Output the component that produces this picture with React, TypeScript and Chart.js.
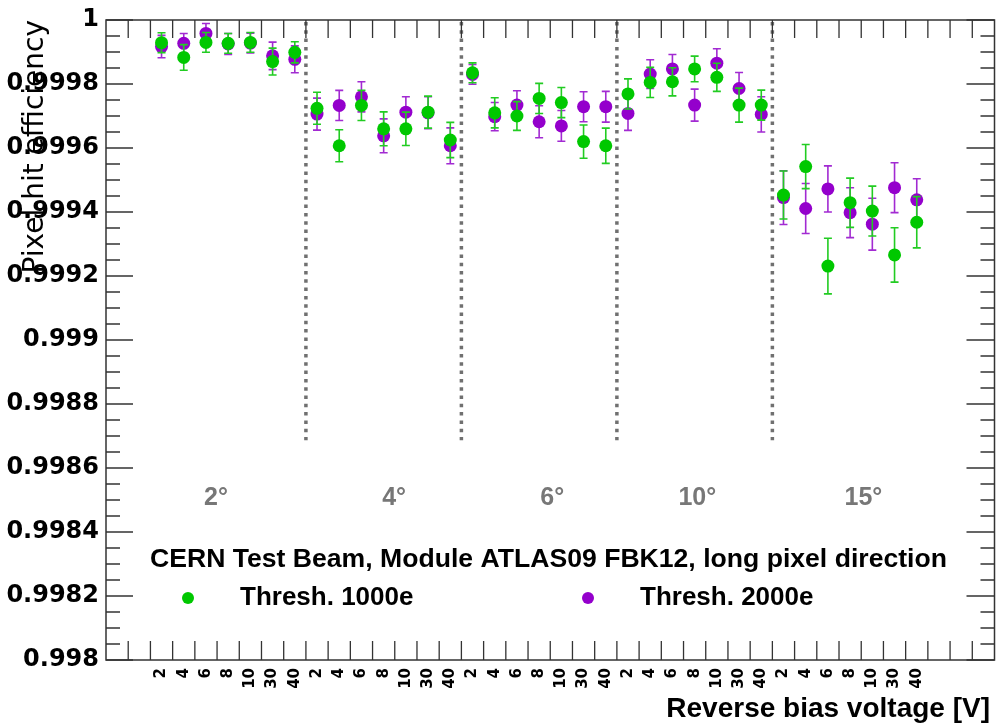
import { useEffect, useRef } from 'react';
import { Chart, registerables } from 'chart.js';

Chart.register(...registerables);

// ---------- data ----------
const voltages = ['2', '4', '6', '8', '10', '30', '40'];
const angles = ['2°', '4°', '6°', '10°', '15°'];
const leadingEmptyBins = 2;
const trailingEmptyBins = 3;

const thresh1000 = [
  0.999929, 0.999883, 0.99993, 0.999927, 0.99993, 0.99987, 0.999899,
  0.999724, 0.999607, 0.999733, 0.99966, 0.99966, 0.999712, 0.999625,
  0.999835, 0.99971, 0.9997, 0.999755, 0.999742, 0.99962, 0.999607,
  0.999769, 0.999805, 0.999807, 0.999847, 0.999821, 0.999734, 0.999734,
  0.999453, 0.999542, 0.999231, 0.999429, 0.999403, 0.999266, 0.999368,
];
const thresh1000Err = [
  0.000031, 0.00004, 0.000031, 0.000031, 0.000031, 0.000042, 0.000033,
  0.00005, 0.00005, 0.000047, 0.000053, 0.000052, 0.00005, 0.000055,
  0.000031, 0.000047, 0.000045, 0.000047, 0.000047, 0.000052, 0.000055,
  0.000047, 0.000047, 0.000044, 0.00004, 0.000044, 0.000053, 0.000047,
  0.000075, 0.000069, 0.000087, 0.000077, 0.000078, 0.000085, 0.00008,
];
const thresh2000 = [
  0.999917, 0.999927, 0.999958, 0.999925, 0.999928, 0.999888, 0.999877,
  0.999706, 0.999733, 0.99976, 0.999638, 0.999712, 0.99971, 0.999607,
  0.99983, 0.999698, 0.999734, 0.999682, 0.999669, 0.999729, 0.999729,
  0.999708, 0.999831, 0.999847, 0.999734, 0.999865, 0.999786, 0.999705,
  0.999445, 0.999411, 0.999472, 0.999398, 0.999362, 0.999476, 0.999438,
];
const thresh2000Err = [
  0.000035, 0.000031, 0.000031, 0.000033, 0.000031, 0.000043, 0.000042,
  0.00005, 0.000047, 0.000047, 0.000053, 0.000048, 0.00005, 0.000056,
  0.000031, 0.000044, 0.000045, 0.00005, 0.000048, 0.000047, 0.000048,
  0.000053, 0.000045, 0.000045, 0.00005, 0.000045, 0.00005, 0.000055,
  0.000084, 0.000078, 0.000072, 0.000078, 0.000081, 0.000078, 0.000066,
];

const yMin = 0.998;
const yMax = 1;
const yStep = 0.0002;

const seriesNames = ['Thresh. 1000e', 'Thresh. 2000e'];
const headerText = 'CERN Test Beam, Module ATLAS09 FBK12, long pixel direction';
const xTitle = 'Reverse bias voltage [V]';
const yTitle = 'Pixel hit efficiency';

// ---------- derived ----------
const categories = [
  ...Array(leadingEmptyBins).fill(''),
  ...angles.flatMap(() => voltages),
  ...Array(trailingEmptyBins).fill(''),
];
const pad = (arr: (number | null)[]) => [
  ...Array(leadingEmptyBins).fill(null),
  ...arr,
  ...Array(trailingEmptyBins).fill(null),
];

const GREEN = '#00c800';
const GREEN_BAR = '#22cc22';
const PURPLE = '#9400cc';
const PURPLE_BAR = '#a22ad2';

const errorSets = [pad(thresh1000Err), pad(thresh2000Err)];
const barColors = [GREEN_BAR, PURPLE_BAR];

// positions of angle labels in category-index units
const angleLabelPos = [4.45, 12.47, 19.59, 26.12, 33.6];

const FRAME = '#333333';

const rootStylePlugin = {
  id: 'rootStyle',
  beforeDatasetsDraw(chart: any) {
    const { ctx, chartArea: a, scales } = chart;
    const x = scales.x;
    const y = scales.y;
    ctx.save();

    // dotted separators between angle groups
    ctx.strokeStyle = '#707070';
    ctx.lineWidth = 3.5;
    ctx.setLineDash([3.5, 4.8]);
    const yEnd = y.getPixelForValue(0.998687);
    for (let g = 1; g < angles.length; g++) {
      const px = x.getPixelForValue(leadingEmptyBins + g * voltages.length - 0.5);
      ctx.beginPath();
      ctx.moveTo(px, a.top + 2);
      ctx.lineTo(px, yEnd);
      ctx.stroke();
    }
    ctx.setLineDash([]);

    // frame
    ctx.strokeStyle = FRAME;
    ctx.lineWidth = 1.5;
    ctx.strokeRect(a.left, a.top, a.right - a.left, a.bottom - a.top);

    // y ticks (major + minor), both sides, inward
    ctx.lineWidth = 1.3;
    const yt = y.ticks.map((t: any) => t.value);
    ctx.beginPath();
    for (let i = 0; i < yt.length; i++) {
      const py = y.getPixelForValue(yt[i]);
      ctx.moveTo(a.left, py); ctx.lineTo(a.left + 27, py);
      ctx.moveTo(a.right, py); ctx.lineTo(a.right - 28, py);
      if (i < yt.length - 1) {
        for (let k = 1; k < 4; k++) {
          const pm = y.getPixelForValue(yt[i] + (k * (yt[i + 1] - yt[i])) / 4);
          ctx.moveTo(a.left, pm); ctx.lineTo(a.left + 14, pm);
          ctx.moveTo(a.right, pm); ctx.lineTo(a.right - 14, pm);
        }
      }
    }
    // x ticks at bin boundaries, top and bottom, inward
    for (let i = 1; i < categories.length; i++) {
      const px = x.getPixelForValue(i - 0.5);
      ctx.moveTo(px, a.bottom); ctx.lineTo(px, a.bottom - 19);
      ctx.moveTo(px, a.top); ctx.lineTo(px, a.top + 18);
    }
    ctx.stroke();

    // angle labels
    ctx.fillStyle = '#777777';
    ctx.font = 'bold 25px "Liberation Sans", Arial, sans-serif';
    ctx.textAlign = 'center';
    ctx.textBaseline = 'alphabetic';
    angles.forEach((lab, i) => {
      ctx.fillText(lab, x.getPixelForValue(angleLabelPos[i]), 505);
    });

    // legend
    ctx.fillStyle = '#000';
    ctx.textAlign = 'left';
    ctx.font = 'bold 26.6px "Liberation Sans", Arial, sans-serif';
    ctx.fillText(headerText, 150, 567);
    ctx.font = 'bold 26px "Liberation Sans", Arial, sans-serif';
    const entries = [
      { name: seriesNames[0], color: GREEN, dot: 188, text: 240 },
      { name: seriesNames[1], color: PURPLE, dot: 588, text: 640 },
    ];
    entries.forEach((e) => {
      ctx.fillStyle = e.color;
      ctx.beginPath();
      ctx.arc(e.dot, 598, 6, 0, Math.PI * 2);
      ctx.fill();
      ctx.fillStyle = '#000';
      ctx.fillText(e.name, e.text, 605);
    });

    // axis titles
    ctx.font = 'bold 28px "Liberation Sans", Arial, sans-serif';
    ctx.textAlign = 'right';
    ctx.fillText(xTitle, 990, 717);

    ctx.save();
    ctx.translate(43, 20);
    ctx.rotate(-Math.PI / 2);
    ctx.font = '28px "DejaVu Sans", sans-serif';
    ctx.textAlign = 'right';
    ctx.textBaseline = 'alphabetic';
    ctx.fillText(yTitle, 0, 0);
    ctx.restore();

    ctx.restore();
  },
  beforeDatasetDraw(chart: any, args: any) {
    const { ctx, scales } = chart;
    const y = scales.y;
    const idx = args.index;
    const ds = chart.data.datasets[idx];
    const errs = errorSets[idx];
    ctx.save();
    ctx.strokeStyle = barColors[idx];
    ctx.lineWidth = 1.6;
    ctx.beginPath();
    args.meta.data.forEach((pt: any, i: number) => {
      const v = ds.data[i];
      if (v == null) return;
      const e = errs[i] as number;
      const top = y.getPixelForValue(v + e);
      const bot = y.getPixelForValue(v - e);
      ctx.moveTo(pt.x, top); ctx.lineTo(pt.x, bot);
      ctx.moveTo(pt.x - 4, top); ctx.lineTo(pt.x + 4, top);
      ctx.moveTo(pt.x - 4, bot); ctx.lineTo(pt.x + 4, bot);
    });
    ctx.stroke();
    ctx.restore();
  },
};

const radiusFor = (c: any) => (c.raw == null ? 0 : 6.5);

export default function App() {
  const ref = useRef<HTMLCanvasElement | null>(null);

  useEffect(() => {
    if (!ref.current) return;
    const chart = new Chart(ref.current, {
      type: 'line',
      data: {
        labels: categories,
        datasets: [
          {
            label: seriesNames[0],
            data: pad(thresh1000),
            showLine: false,
            borderWidth: 0,
            pointRadius: radiusFor,
            pointHoverRadius: radiusFor,
            pointBorderWidth: 0,
            pointBackgroundColor: GREEN,
            borderColor: GREEN,
          },
          {
            label: seriesNames[1],
            data: pad(thresh2000),
            showLine: false,
            borderWidth: 0,
            pointRadius: radiusFor,
            pointHoverRadius: radiusFor,
            pointBorderWidth: 0,
            pointBackgroundColor: PURPLE,
            borderColor: PURPLE,
          },
        ],
      },
      options: {
        responsive: false,
        animation: false,
        layout: { padding: { top: 20, right: 2.5, left: 0, bottom: 0 } },
        plugins: { legend: { display: false }, tooltip: { enabled: false } },
        scales: {
          x: {
            type: 'category',
            offset: true,
            grid: { display: false, drawTicks: false },
            border: { display: false },
            ticks: {
              autoSkip: false,
              maxRotation: 90,
              minRotation: 90,
              padding: 8,
              color: '#000',
              font: { family: '"DejaVu Sans", sans-serif', weight: 'bold', size: 15 },
            },
            afterFit: (s: any) => {
              s.height = 63;
              s.paddingLeft = 0;
              s.paddingRight = 0;
            },
          },
          y: {
            type: 'linear',
            min: yMin,
            max: yMax,
            grid: { display: false, drawTicks: false },
            border: { display: false },
            ticks: {
              stepSize: yStep,
              padding: 7,
              color: '#000',
              font: { family: '"DejaVu Sans", sans-serif', weight: 'bold', size: 24 },
              callback: (v: any) => parseFloat(Number(v).toFixed(4)).toString(),
            },
            afterFit: (s: any) => {
              s.width = 106;
              s.paddingTop = 0;
              s.paddingBottom = 0;
            },
          },
        },
      },
      plugins: [rootStylePlugin],
    });
    return () => chart.destroy();
  }, []);

  return (
    <div style={{ position: 'absolute', left: 0, top: 0, width: 997, height: 723, background: '#fff' }}>
      <canvas ref={ref} width={997} height={723} style={{ display: 'block' }} />
    </div>
  );
}
